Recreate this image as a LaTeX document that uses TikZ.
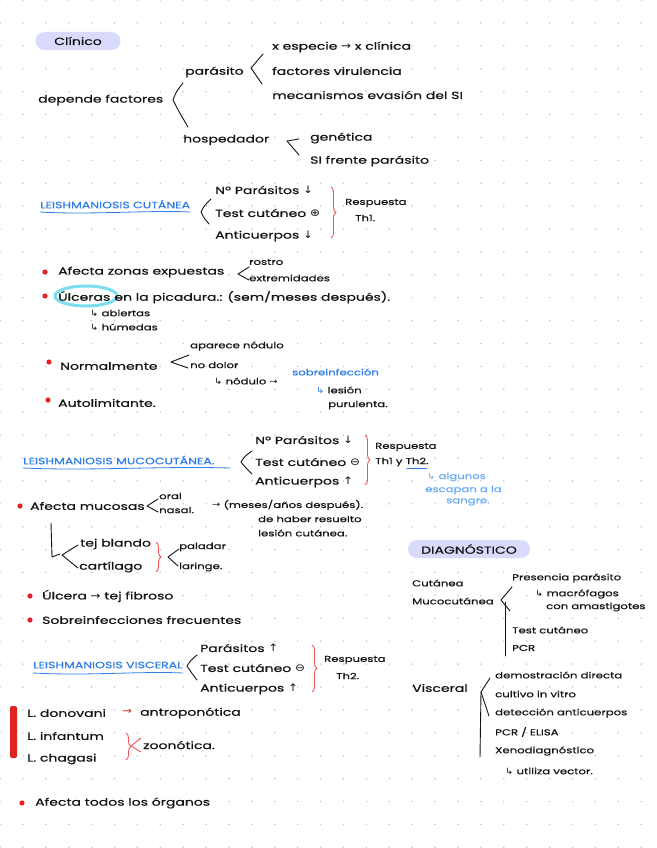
\documentclass[tikz,border=0pt]{standalone}
\usepackage{fontspec}
\setmainfont{Poppins}[FakeStretch=1.36, FakeBold=0.6]
\newfontfamily\symf{DejaVu Sans}[FakeStretch=1.15]
\usetikzlibrary{decorations.pathreplacing}
\definecolor{hblue}{RGB}{45,125,235}
\definecolor{lblue}{RGB}{105,170,250}
\definecolor{nred}{RGB}{225,35,35}
\definecolor{bred}{RGB}{238,85,85}
\definecolor{pillc}{RGB}{218,218,252}
\definecolor{hcyan}{RGB}{120,222,240}
\definecolor{dotc}{RGB}{200,200,200}
\definecolor{ink}{RGB}{20,20,20}
\newcommand\myra{{\symf→}}
\newcommand\myda{{\symf↓}}
\newcommand\myua{{\symf↑}}
\newcommand\myhk{{\symf↳}}
\newcommand\mypl{{\symf⊕}}
\newcommand\mymi{{\symf⊖}}
\newcommand\fsz{\fontsize{10.3}{12}\selectfont}
\newcommand\fsm{\fontsize{8.6}{10}\selectfont}
\newcommand\fsh{\fontsize{9.2}{11}\selectfont}
\tikzset{
  tx/.style={anchor=west, inner sep=0pt, font=\fsz, text=ink},
  sm/.style={anchor=west, inner sep=0pt, font=\fsm, text=ink},
  hd/.style={anchor=west, inner sep=0pt, font=\fsh, text=hblue},
  nt/.style={anchor=west, inner sep=0pt, font=\fsm, text=lblue},
  pillbox/.style={fill=pillc, rounded corners=9pt, inner sep=0pt, font=\fsz, text=ink},
  brk/.style={draw=ink, line width=0.9pt, line cap=round, line join=round},
  rbrace/.style={draw=bred, line width=0.9pt, decorate, decoration={brace, amplitude=5pt}},
  uline/.style={draw=hblue, line width=0.8pt, line cap=round},
}
\newcommand\bul[2]{\fill[nred] (#1,#2) circle (2.6pt);}
\begin{document}
\begin{tikzpicture}[x=1pt,y=-1pt]
\useasboundingbox (0,0) rectangle (656,848);
\fill[white] (0,0) rectangle (656,848);
\foreach \i in {0,...,28} \foreach \j in {0,...,37} \fill[dotc] (\i*22.9,\j*22.9) circle (0.9pt);

% ---------- CLINICO ----------
\node[pillbox, minimum width=85pt, minimum height=18pt] (clin) at (78,41) {Clínico};
\node[tx] (dep) at (38,100) {depende factores};
\draw[brk] (183,83) .. controls (176,92) .. (173,100) .. controls (178,110) .. (188,127);
\node[tx] (par) at (185,72) {parásito};
\draw[brk] (263,54) -- (251,68) -- (262,84);
\node[tx] (e1) at (272,47) {x especie \myra\ x clínica};
\node[tx] (e2) at (272,71) {factores virulencia};
\node[tx] (e3) at (272,95) {mecanismos evasión del SI};
\node[tx] (hos) at (183,140) {hospedador};
\draw[brk] (299,139) -- (287,141) -- (299,155);
\node[tx] (g1) at (310,138) {genética};
\node[tx] (g2) at (310,161) {SI frente parásito};

% ---------- CUTANEA ----------
\node[hd] (h1) at (40,204) {LEISHMANIOSIS CUTÁNEA};
\draw[uline] (40,212) .. controls (90,215) and (150,210) .. (190,212);
\draw[brk] (211,199) .. controls (204,206) .. (201,212) .. controls (204,218) .. (209,224);
\node[tx] (c1) at (215,190) {Nº Parásitos \myda};
\node[tx] (c2) at (215,213) {Test cutáneo \mypl};
\node[tx] (c3) at (215,236) {Anticuerpos \myda};
\draw[rbrace] (331,187) -- (331,238);
\node[sm] (r1) at (345,203) {Respuesta};
\node[sm] (r1b) at (355,218) {Th1.};

\bul{45}{272}
\node[tx] (a1) at (58,272) {Afecta zonas expuestas};
\draw[brk] (249,267) -- (238,274) -- (249,280);
\node[sm] (a2) at (249,262) {rostro};
\node[sm] (a3) at (249,278) {extremidades};

\bul{45}{296}
\draw[hcyan, line width=3pt] (86,296) ellipse (31pt and 10pt);
\node[tx] (ulc) at (58,296) {Úlceras};
\node[tx, anchor=base west] (ulc2) at (ulc.base east) {\ en la picadura.: (sem/meses después).};
\node[sm] (ab) at (90,313) {\myhk\ abiertas};
\node[sm] (hu) at (90,327) {\myhk\ húmedas};

\bul{49}{362}
\node[tx] (n1) at (60,366) {Normalmente};
\draw[brk] (189,355) -- (171,362) -- (188,368);
\node[sm] (n2) at (190,346) {aparece nódulo};
\node[sm] (n3) at (190,365) {no dolor};
\node[sm] (n4) at (214,381) {\myhk\ nódulo \myra};
\node[nt, text=hblue] (n5) at (292,372) {sobreinfección};
\node[sm] (n6) at (316,390) {{\color{hblue}\myhk}\ lesión};
\node[sm] (n7) at (328,405) {purulenta.};
\bul{48}{400}
\node[tx] (n8) at (58,403) {Autolimitante.};

% ---------- MUCOCUTANEA ----------
\node[hd] (h2) at (23,460) {LEISHMANIOSIS MUCOCUTÁNEA.};
\draw[uline] (23,468) .. controls (90,471) and (160,466) .. (230,468);
\draw[brk] (252,451) .. controls (245,456) .. (241,462) .. controls (245,467) .. (252,474);
\node[tx] (m1) at (255,440) {Nº Parásitos \myda};
\node[tx] (m2) at (255,462) {Test cutáneo \mymi};
\node[tx] (m3) at (255,482) {Anticuerpos \myua};
\draw[rbrace] (365,435) -- (365,485);
\node[sm] (r2) at (375,447) {Respuesta};
\node[sm] (r2b) at (375,462) {Th1 y Th2.};
\draw[uline] (r2b.south east) ++(-22pt,-1.5pt) -- ++(20pt,0);
\node[nt] (q1) at (427,477) {\myhk\ algunos};
\node[nt] (q2) at (425,490) {escapan a la};
\node[nt] (q3) at (446,502) {sangre.};

\bul{20}{506}
\node[tx] (f1) at (30,506) {Afecta mucosas};
\draw[brk] (158,499) -- (147,506) -- (158,512);
\node[sm] (f2) at (159,496) {oral};
\node[sm] (f3) at (159,510) {nasal.};
\node[sm] (f4) at (212,505) {\myra\ (meses/años después).};
\node[sm] (f5) at (258,519) {de haber resuelto};
\node[sm] (f6) at (258,533) {lesión cutánea.};
\draw[brk] (51,523) -- (52,557) -- (60,554);
\draw[brk] (78,545) -- (62,555) -- (78,568);
\node[tx] (tb) at (80,544) {tej blando};
\node[tx] (ca) at (79,567) {cartílago};
\draw[rbrace] (156,542) -- (156,572);
\draw[brk] (179,549) -- (168,557) -- (178,566);
\node[sm] (pa) at (179,547) {paladar};
\node[sm] (la) at (179,567) {laringe.};

\bul{30}{596}
\node[tx] (u1) at (42,596) {Úlcera \myra\ tej fibroso};
\bul{30}{620}
\node[tx] (u2) at (42,620) {Sobreinfecciones frecuentes};

% ---------- VISCERAL ----------
\node[hd] (h3) at (33,665) {LEISHMANIOSIS VISCERAL};
\draw[uline] (33,673) .. controls (90,676) and (140,671) .. (183,673);
\draw[brk] (197,655) .. controls (191,660) .. (187,666) .. controls (191,672) .. (197,680);
\node[tx] (v1) at (200,648) {Parásitos \myua};
\node[tx] (v2) at (200,668) {Test cutáneo \mymi};
\node[tx] (v3) at (200,689) {Anticuerpos \myua};
\draw[rbrace] (312,645) -- (312,692);
\node[sm] (r3) at (324,660) {Respuesta};
\node[sm] (r3b) at (336,676) {Th2.};

\fill[nred, rounded corners=2pt] (10,706) rectangle (17,758);
\node[tx] (l1) at (27,713) {L. donovani};
\node[tx, text=nred] (l1a) at (122,712) {\myra};
\node[tx] (l1b) at (140,713) {antroponótica};
\node[tx] (l2) at (27,736) {L. infantum};
\node[tx] (l3) at (27,759) {L. chagasi};
\draw[rbrace] (126,733) -- (126,760);
\draw[bred, line width=0.9pt] (131,746) -- (141,738) (131,746) -- (141,752);
\node[tx] (zo) at (143,745) {zoonótica.};

\bul{22}{803}
\node[tx] (o1) at (35,803) {Afecta todos los órganos};

% ---------- DIAGNOSTICO ----------
\node[pillbox, minimum width=122pt, minimum height=18pt] (diag) at (469,549) {DIAGNÓSTICO};
\node[sm] (dc1) at (412,583) {Cutánea};
\node[sm] (dc2) at (412,601) {Mucocutánea};
\draw[brk] (512,587) -- (501,600) -- (510,611);
\draw[brk] (505,602) -- (505,656);
\node[sm] (p1) at (512,578) {Presencia parásito};
\node[sm] (p2) at (535,594) {\myhk\ macrófagos};
\node[sm] (p3) at (546,607) {con amastigotes};
\node[sm] (p4) at (512,630) {Test cutáneo};
\node[sm] (p5) at (512,648) {PCR};

\node[tx] (dv) at (412,688) {Visceral};
\draw[brk] (490,678) -- (481,692) -- (489,716);
\draw[brk] (481,692) -- (480,757);
\node[sm] (w1) at (495,675) {demostración directa};
\node[sm] (w2) at (495,694) {cultivo in vitro};
\node[sm] (w3) at (495,713) {detección anticuerpos};
\node[sm] (w4) at (495,732) {PCR / ELISA};
\node[sm] (w5) at (495,751) {Xenodiagnóstico};
\node[sm] (w6) at (505,771) {\myhk\ utiliza vector.};
\end{tikzpicture}
\end{document}
